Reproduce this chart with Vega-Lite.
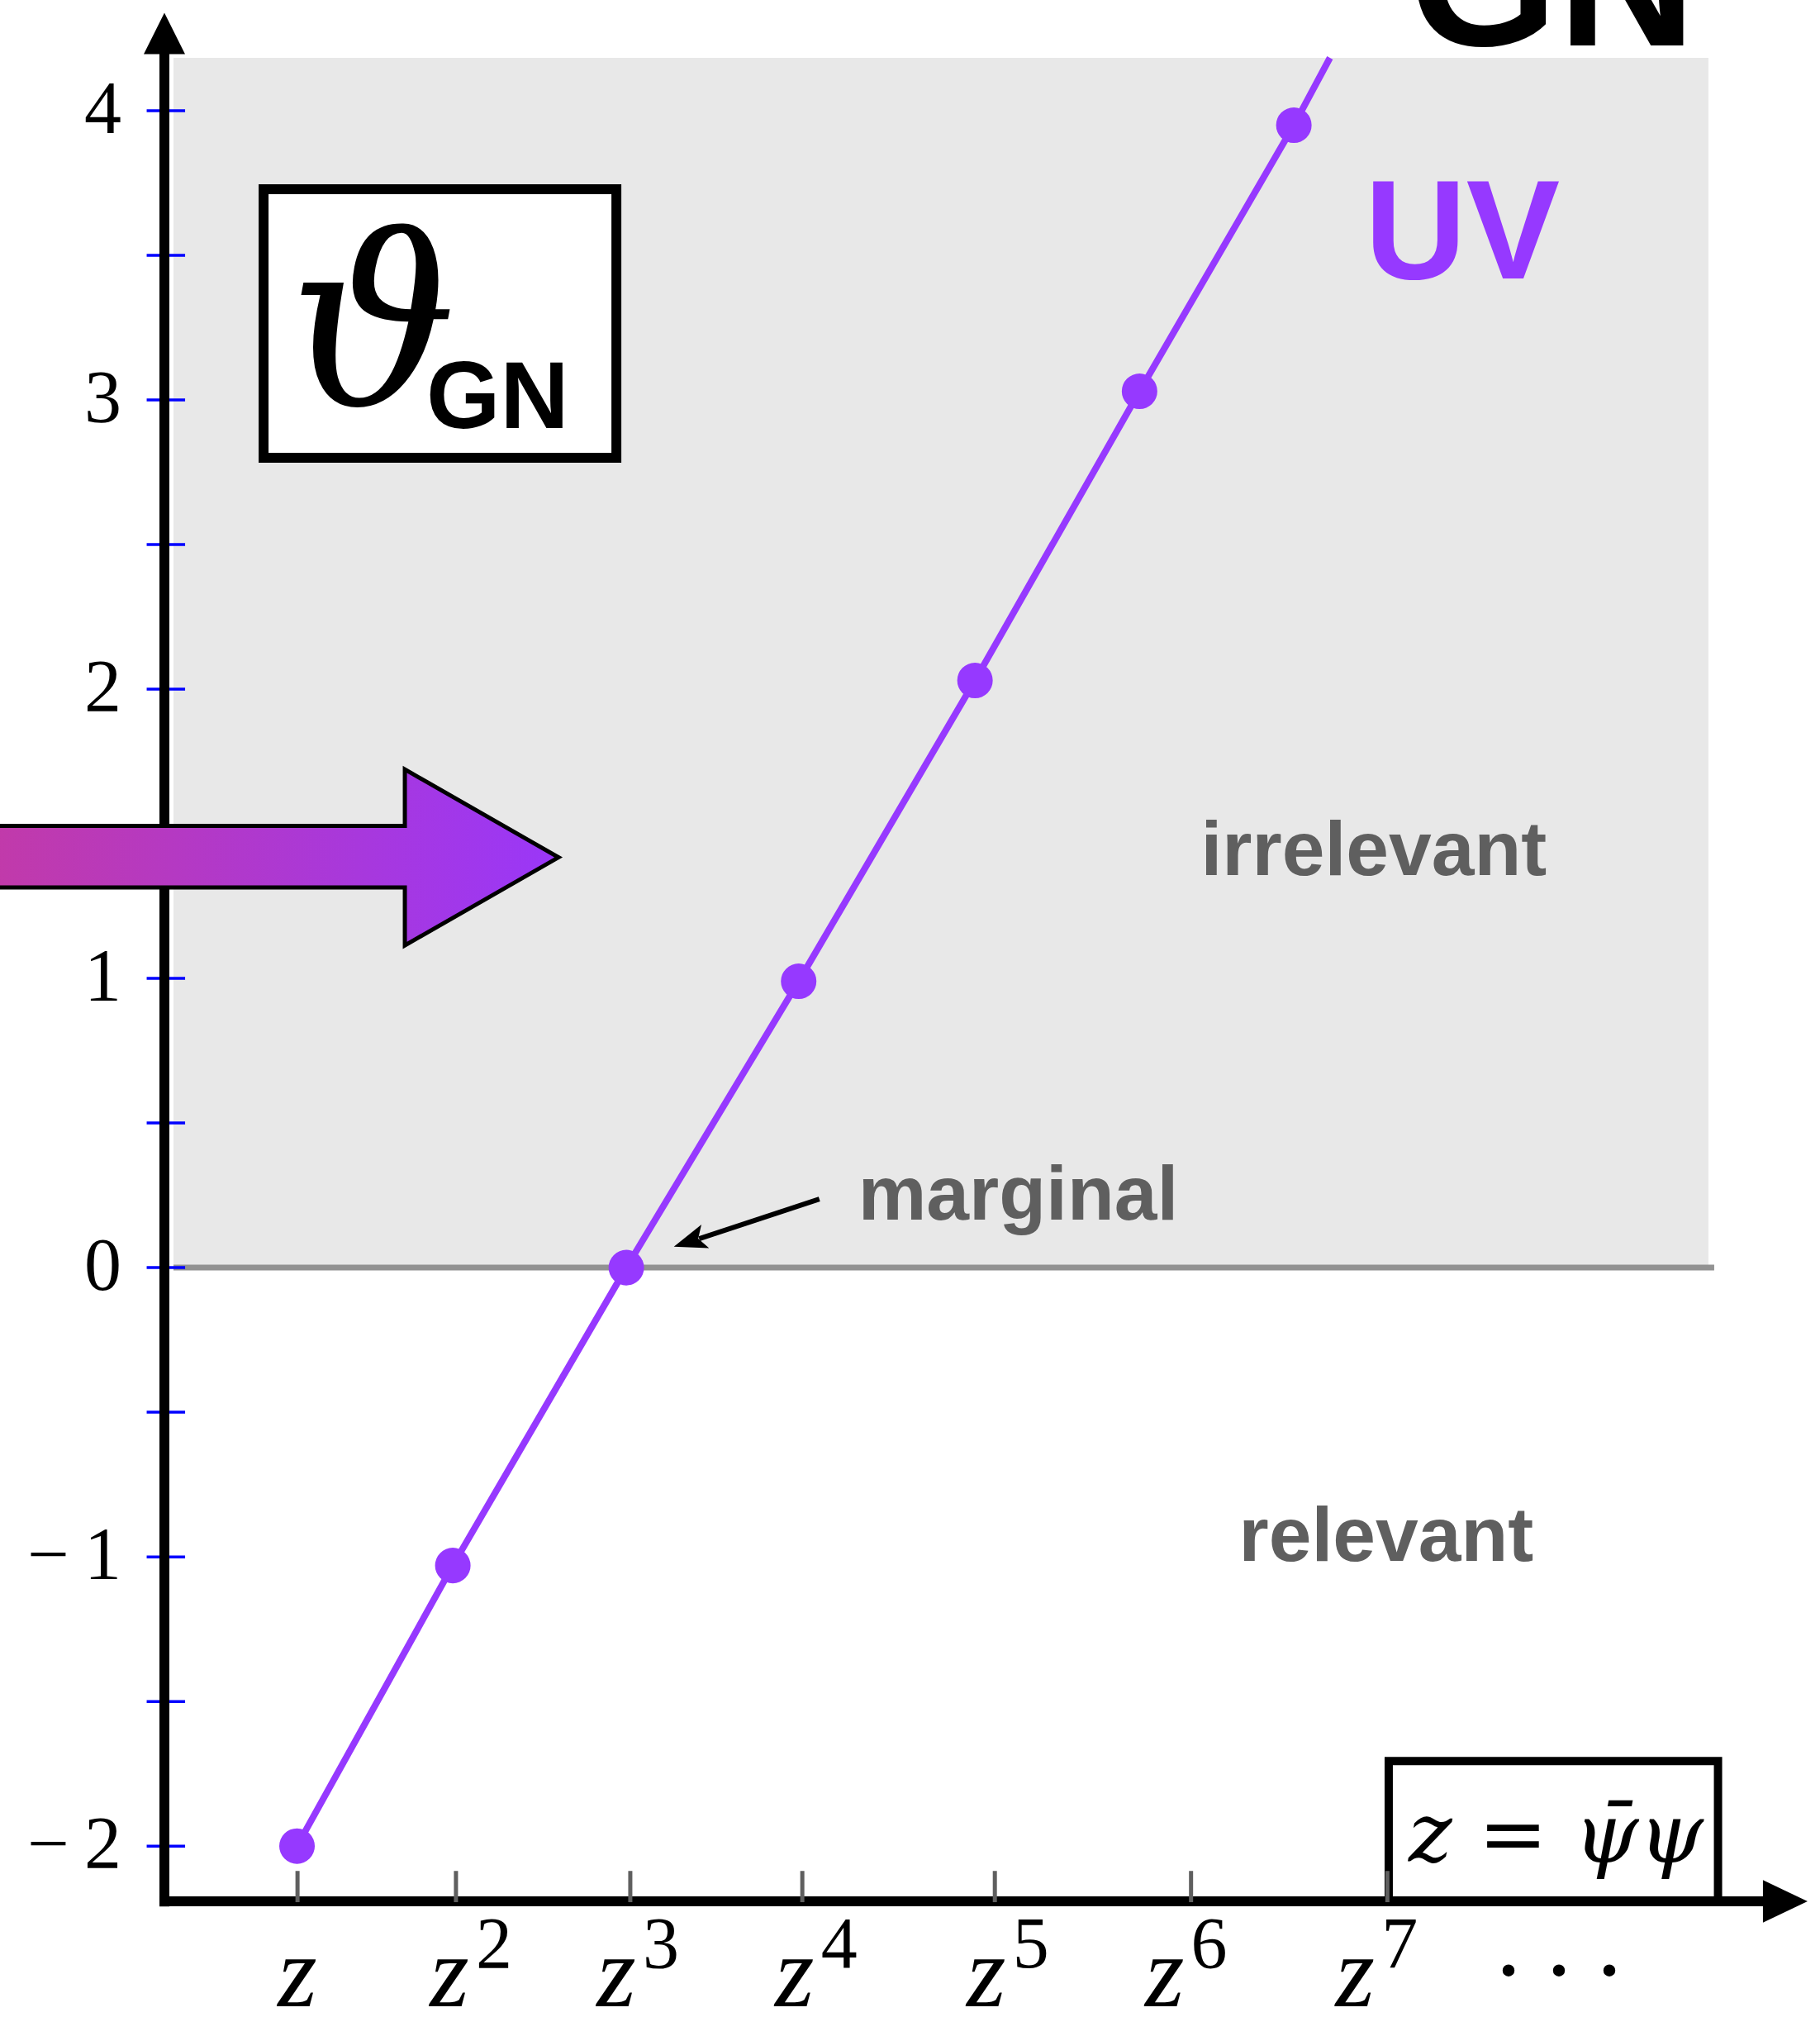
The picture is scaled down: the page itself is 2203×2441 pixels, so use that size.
{
  "$schema": "https://vega.github.io/schema/vega-lite/v6.json",
  "width": 2004,
  "height": 2441,
  "autosize": {"type": "none"},
  "padding": {"left": 199, "top": 0, "right": 0, "bottom": 0},
  "background": "white",
  "config": {"view": {"stroke": null}},
  "datasets": {
    "flow": [
      {"operator": "z", "n": 1, "x": 0.801, "theta": -2.0, "marker": true},
      {"operator": "z^2", "n": 2, "x": 1.742, "theta": -1.03, "marker": true},
      {"operator": "z^3", "n": 3, "x": 2.79, "theta": 0.0, "marker": true},
      {"operator": "z^4", "n": 4, "x": 3.831, "theta": 0.99, "marker": true},
      {"operator": "z^5", "n": 5, "x": 4.896, "theta": 2.03, "marker": true},
      {"operator": "z^6", "n": 6, "x": 5.89, "theta": 3.03, "marker": true},
      {"operator": "z^7", "n": 7, "x": 6.822, "theta": 3.95, "marker": true},
      {"operator": "line end", "n": 7.2, "x": 7.04, "theta": 4.183, "marker": false}
    ],
    "operators": [
      {"n": 1, "tick_x": 0.804, "label_x": 0.803, "base": "z", "exp": ""},
      {"n": 2, "tick_x": 1.761, "label_x": 1.722, "base": "z", "exp": "2"},
      {"n": 3, "tick_x": 2.814, "label_x": 2.73, "base": "z", "exp": "3"},
      {"n": 4, "tick_x": 3.853, "label_x": 3.806, "base": "z", "exp": "4"},
      {"n": 5, "tick_x": 5.016, "label_x": 4.964, "base": "z", "exp": "5"},
      {"n": 6, "tick_x": 6.201, "label_x": 6.041, "base": "z", "exp": "6"},
      {"n": 7, "tick_x": 7.387, "label_x": 7.192, "base": "z", "exp": "7"}
    ],
    "yticks": [
      {"theta": 4, "label": "4"},
      {"theta": 3.5, "label": ""},
      {"theta": 3, "label": "3"},
      {"theta": 2.5, "label": ""},
      {"theta": 2, "label": "2"},
      {"theta": 1.5, "label": ""},
      {"theta": 1, "label": "1"},
      {"theta": 0.5, "label": ""},
      {"theta": 0, "label": "0"},
      {"theta": -0.5, "label": ""},
      {"theta": -1, "label": "\u2212\u20091"},
      {"theta": -1.5, "label": ""},
      {"theta": -2, "label": "\u2212\u20092"}
    ]
  },
  "layer": [
    {
      "data": {"values": [{"region": "irrelevant"}]},
      "mark": {"type": "rect", "color": "#e8e8e8"},
      "encoding": {
        "x": {"datum": 0.055, "type": "quantitative", "scale": {"domain": [0, 10], "nice": false, "zero": false}, "axis": null},
        "x2": {"datum": 9.326},
        "y": {"datum": 4.183, "type": "quantitative", "scale": {"domain": [-2.591, 4.383], "nice": false, "zero": false}, "axis": null},
        "y2": {"datum": 0}
      }
    },
    {
      "data": {"values": [{"line": "marginal"}]},
      "mark": {"type": "rule", "color": "#929292", "strokeWidth": 7},
      "encoding": {
        "x": {"datum": 0.055, "type": "quantitative", "scale": {"domain": [0, 10], "nice": false, "zero": false}, "axis": null},
        "x2": {"datum": 9.361},
        "y": {"datum": 0, "type": "quantitative", "scale": {"domain": [-2.591, 4.383], "nice": false, "zero": false}, "axis": null}
      }
    },
    {
      "data": {"values": [{"box": "title"}]},
      "mark": {"type": "rect", "fill": "white", "stroke": "black", "strokeWidth": 12},
      "encoding": {
        "x": {"datum": 0.599, "type": "quantitative", "scale": {"domain": [0, 10], "nice": false, "zero": false}, "axis": null},
        "x2": {"datum": 2.73},
        "y": {"datum": 3.729, "type": "quantitative", "scale": {"domain": [-2.591, 4.383], "nice": false, "zero": false}, "axis": null},
        "y2": {"datum": 2.8}
      }
    },
    {
      "data": {"values": [{"label": "\u03d1"}]},
      "mark": {"type": "text", "font": "DejaVu Serif", "fontStyle": "italic", "fontSize": 285, "align": "left", "baseline": "alphabetic", "color": "black"},
      "encoding": {
        "text": {"field": "label"},
        "x": {"datum": 0.753, "type": "quantitative", "scale": {"domain": [0, 10], "nice": false, "zero": false}, "axis": null},
        "y": {"datum": 2.983, "type": "quantitative", "scale": {"domain": [-2.591, 4.383], "nice": false, "zero": false}, "axis": null}
      }
    },
    {
      "data": {"values": [{"label": "GN"}]},
      "mark": {"type": "text", "font": "Liberation Sans", "fontWeight": "bold", "fontSize": 115, "align": "left", "baseline": "alphabetic", "color": "black"},
      "encoding": {
        "text": {"field": "label"},
        "x": {"datum": 1.582, "type": "quantitative", "scale": {"domain": [0, 10], "nice": false, "zero": false}, "axis": null},
        "y": {"datum": 2.903, "type": "quantitative", "scale": {"domain": [-2.591, 4.383], "nice": false, "zero": false}, "axis": null}
      }
    },
    {
      "data": {"values": [{"label": "GN"}]},
      "mark": {"type": "text", "font": "Liberation Sans", "fontWeight": "bold", "fontSize": 232, "align": "left", "baseline": "alphabetic", "color": "black"},
      "encoding": {
        "text": {"field": "label"},
        "x": {"datum": 7.515, "type": "quantitative", "scale": {"domain": [0, 10], "nice": false, "zero": false}, "axis": null},
        "y": {"datum": 4.225, "type": "quantitative", "scale": {"domain": [-2.591, 4.383], "nice": false, "zero": false}, "axis": null}
      }
    },
    {
      "data": {"values": [{"label": "UV"}]},
      "mark": {"type": "text", "font": "Liberation Sans", "fontWeight": "bold", "fontSize": 170, "align": "left", "baseline": "alphabetic", "color": "#9639ff"},
      "encoding": {
        "text": {"field": "label"},
        "x": {"datum": 7.25, "type": "quantitative", "scale": {"domain": [0, 10], "nice": false, "zero": false}, "axis": null},
        "y": {"datum": 3.42, "type": "quantitative", "scale": {"domain": [-2.591, 4.383], "nice": false, "zero": false}, "axis": null}
      }
    },
    {
      "data": {"values": [{"label": "irrelevant", "x": 6.26, "theta": 1.357}, {"label": "relevant", "x": 6.49, "theta": -1.014}, {"label": "marginal", "x": 4.19, "theta": 0.166}]},
      "mark": {"type": "text", "font": "Liberation Sans", "fontWeight": "bold", "fontSize": 93, "align": "left", "baseline": "alphabetic", "color": "#5f5f5f"},
      "encoding": {
        "text": {"field": "label"},
        "x": {"field": "x", "type": "quantitative", "scale": {"domain": [0, 10], "nice": false, "zero": false}, "axis": null},
        "y": {"field": "theta", "type": "quantitative", "scale": {"domain": [-2.591, 4.383], "nice": false, "zero": false}, "axis": null}
      }
    },
    {
      "data": {"values": [{"pointer": "marginal"}]},
      "mark": {"type": "rule", "color": "black", "strokeWidth": 6},
      "encoding": {
        "x": {"datum": 3.956, "type": "quantitative", "scale": {"domain": [0, 10], "nice": false, "zero": false}, "axis": null},
        "x2": {"datum": 3.23},
        "y": {"datum": 0.237, "type": "quantitative", "scale": {"domain": [-2.591, 4.383], "nice": false, "zero": false}, "axis": null},
        "y2": {"datum": 0.1}
      }
    },
    {
      "data": {"values": [{"pointer": "marginal head"}]},
      "mark": {"type": "point", "shape": "M0,-1L0.75,1L0,0.55L-0.75,1Z", "filled": true, "color": "black", "opacity": 1, "size": 1600, "angle": 251.9},
      "encoding": {
        "x": {"datum": 3.172, "type": "quantitative", "scale": {"domain": [0, 10], "nice": false, "zero": false}, "axis": null},
        "y": {"datum": 0.0903, "type": "quantitative", "scale": {"domain": [-2.591, 4.383], "nice": false, "zero": false}, "axis": null}
      }
    },
    {
      "data": {"name": "flow"},
      "mark": {"type": "line", "color": "#9639ff", "strokeWidth": 8},
      "encoding": {
        "x": {"field": "x", "type": "quantitative", "scale": {"domain": [0, 10], "nice": false, "zero": false}, "axis": null},
        "y": {"field": "theta", "type": "quantitative", "scale": {"domain": [-2.591, 4.383], "nice": false, "zero": false}, "axis": null},
        "order": {"field": "n"}
      }
    },
    {
      "data": {"name": "flow"},
      "transform": [{"filter": "datum.marker"}],
      "mark": {"type": "circle", "color": "#9639ff", "opacity": 1, "size": 1850},
      "encoding": {
        "x": {"field": "x", "type": "quantitative", "scale": {"domain": [0, 10], "nice": false, "zero": false}, "axis": null},
        "y": {"field": "theta", "type": "quantitative", "scale": {"domain": [-2.591, 4.383], "nice": false, "zero": false}, "axis": null}
      }
    },
    {
      "data": {"values": [{"box": "definition"}]},
      "mark": {"type": "rect", "fill": "white", "stroke": "black", "strokeWidth": 10},
      "encoding": {
        "x": {"datum": 7.395, "type": "quantitative", "scale": {"domain": [0, 10], "nice": false, "zero": false}, "axis": null},
        "x2": {"datum": 9.384},
        "y": {"datum": -1.706, "type": "quantitative", "scale": {"domain": [-2.591, 4.383], "nice": false, "zero": false}, "axis": null},
        "y2": {"datum": -2.191}
      }
    },
    {
      "data": {"values": [{"label": "z = \u03c8\u0304\u03c8"}]},
      "mark": {"type": "text", "font": "DejaVu Serif", "fontStyle": "italic", "fontSize": 100, "align": "left", "baseline": "alphabetic", "color": "black"},
      "encoding": {
        "text": {"field": "label"},
        "x": {"datum": 7.515, "type": "quantitative", "scale": {"domain": [0, 10], "nice": false, "zero": false}, "axis": null},
        "y": {"datum": -2.054, "type": "quantitative", "scale": {"domain": [-2.591, 4.383], "nice": false, "zero": false}, "axis": null}
      }
    },
    {
      "data": {"name": "yticks"},
      "mark": {"type": "rule", "color": "#0000ff", "strokeWidth": 3.5},
      "encoding": {
        "x": {"datum": -0.107, "type": "quantitative", "scale": {"domain": [0, 10], "nice": false, "zero": false}, "axis": null},
        "x2": {"datum": 0.125},
        "y": {"field": "theta", "type": "quantitative", "scale": {"domain": [-2.591, 4.383], "nice": false, "zero": false}, "axis": null}
      }
    },
    {
      "data": {"values": [{"axis": "theta"}]},
      "mark": {"type": "rule", "color": "black", "strokeWidth": 12},
      "encoding": {
        "x": {"datum": 0, "type": "quantitative", "scale": {"domain": [0, 10], "nice": false, "zero": false}, "axis": null},
        "y": {"datum": -2.209, "type": "quantitative", "scale": {"domain": [-2.591, 4.383], "nice": false, "zero": false}, "axis": null},
        "y2": {"datum": 4.2}
      }
    },
    {
      "data": {"values": [{"axis": "operators"}]},
      "mark": {"type": "rule", "color": "black", "strokeWidth": 12},
      "encoding": {
        "x": {"datum": -0.03, "type": "quantitative", "scale": {"domain": [0, 10], "nice": false, "zero": false}, "axis": null},
        "x2": {"datum": 9.8},
        "y": {"datum": -2.191, "type": "quantitative", "scale": {"domain": [-2.591, 4.383], "nice": false, "zero": false}, "axis": null}
      }
    },
    {
      "data": {"values": [{"arrowhead": "theta"}]},
      "mark": {"type": "point", "shape": "M0,-1L1,1L-1,1Z", "filled": true, "color": "black", "opacity": 1, "size": 2500},
      "encoding": {
        "x": {"datum": 0, "type": "quantitative", "scale": {"domain": [0, 10], "nice": false, "zero": false}, "axis": null},
        "y": {"datum": 4.267, "type": "quantitative", "scale": {"domain": [-2.591, 4.383], "nice": false, "zero": false}, "axis": null}
      }
    },
    {
      "data": {"values": [{"arrowhead": "operators"}]},
      "mark": {"type": "point", "shape": "M1,0L-1,0.95L-1,-0.95Z", "filled": true, "color": "black", "opacity": 1, "size": 2916},
      "encoding": {
        "x": {"datum": 9.79, "type": "quantitative", "scale": {"domain": [0, 10], "nice": false, "zero": false}, "axis": null},
        "y": {"datum": -2.191, "type": "quantitative", "scale": {"domain": [-2.591, 4.383], "nice": false, "zero": false}, "axis": null}
      }
    },
    {
      "data": {"name": "operators"},
      "mark": {"type": "rule", "color": "#5f5f5f", "strokeWidth": 5},
      "encoding": {
        "x": {"field": "tick_x", "type": "quantitative", "scale": {"domain": [0, 10], "nice": false, "zero": false}, "axis": null},
        "y": {"datum": -2.086, "type": "quantitative", "scale": {"domain": [-2.591, 4.383], "nice": false, "zero": false}, "axis": null},
        "y2": {"datum": -2.194}
      }
    },
    {
      "data": {"values": [{"arrow": "flow direction"}]},
      "mark": {
        "type": "point",
        "shape": "M-1,-0.1092L0.4655,-0.1092L0.4655,-0.306L1,0L0.4655,0.306L0.4655,0.1049L-1,0.1049Z",
        "size": 484416,
        "filled": true,
        "fill": {"gradient": "linear", "x1": 0, "y1": 0, "x2": 1, "y2": 0, "stops": [{"offset": 0, "color": "#c23aa8"}, {"offset": 1, "color": "#9a37f8"}]},
        "stroke": "black",
        "strokeWidth": 5,
        "strokeJoin": "miter",
        "opacity": 1,
        "fillOpacity": 1,
        "strokeOpacity": 1
      },
      "encoding": {
        "x": {"datum": 0.644, "type": "quantitative", "scale": {"domain": [0, 10], "nice": false, "zero": false}, "axis": null},
        "y": {"datum": 1.4186, "type": "quantitative", "scale": {"domain": [-2.591, 4.383], "nice": false, "zero": false}, "axis": null}
      }
    },
    {
      "data": {"name": "yticks"},
      "transform": [{"filter": "datum.label != ''"}],
      "mark": {"type": "text", "font": "Liberation Serif", "fontSize": 90, "align": "right", "baseline": "middle", "color": "black"},
      "encoding": {
        "text": {"field": "label"},
        "x": {"datum": -0.259, "type": "quantitative", "scale": {"domain": [0, 10], "nice": false, "zero": false}, "axis": null},
        "y": {"field": "theta", "type": "quantitative", "scale": {"domain": [-2.591, 4.383], "nice": false, "zero": false}, "axis": null}
      }
    },
    {
      "data": {"name": "operators"},
      "mark": {"type": "text", "font": "Liberation Serif", "fontStyle": "italic", "fontSize": 122, "align": "center", "baseline": "alphabetic", "color": "black"},
      "encoding": {
        "text": {"field": "base"},
        "x": {"field": "label_x", "type": "quantitative", "scale": {"domain": [0, 10], "nice": false, "zero": false}, "axis": null},
        "y": {"datum": -2.554, "type": "quantitative", "scale": {"domain": [-2.591, 4.383], "nice": false, "zero": false}, "axis": null}
      }
    },
    {
      "data": {"name": "operators"},
      "transform": [{"filter": "datum.exp != ''"}],
      "mark": {"type": "text", "font": "Liberation Serif", "fontSize": 88, "align": "center", "baseline": "alphabetic", "dx": 54, "color": "black"},
      "encoding": {
        "text": {"field": "exp"},
        "x": {"field": "label_x", "type": "quantitative", "scale": {"domain": [0, 10], "nice": false, "zero": false}, "axis": null},
        "y": {"datum": -2.42, "type": "quantitative", "scale": {"domain": [-2.591, 4.383], "nice": false, "zero": false}, "axis": null}
      }
    },
    {
      "data": {"values": [{"label": ". . ."}]},
      "mark": {"type": "text", "font": "Liberation Serif", "fontSize": 122, "align": "center", "baseline": "alphabetic", "color": "black"},
      "encoding": {
        "text": {"field": "label"},
        "x": {"datum": 8.423, "type": "quantitative", "scale": {"domain": [0, 10], "nice": false, "zero": false}, "axis": null},
        "y": {"datum": -2.446, "type": "quantitative", "scale": {"domain": [-2.591, 4.383], "nice": false, "zero": false}, "axis": null}
      }
    }
  ]
}
